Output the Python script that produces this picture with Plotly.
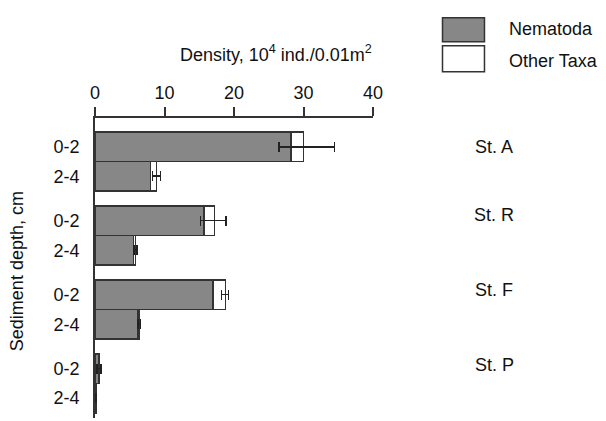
import plotly.graph_objects as go

stations = ["St. A", "St. R", "St. F", "St. P"]
depths = ["0-2", "2-4"]
nematoda = [28.2, 8.0, 15.7, 5.55, 17.0, 6.1, 0.5, 0.1]
other_taxa = [1.8, 0.85, 1.5, 0.3, 1.75, 0.25, 0.1, 0.03]
err_plus = [4.45, 0.55, 1.65, 0.2, 0.45, 0.2, 0.3, 0.05]
err_minus = [3.5, 0.55, 2.0, 0.2, 0.55, 0.2, 0.3, 0.05]
x_ticks = [0, 10, 20, 30, 40]

FONT = "Liberation Sans, Arial, sans-serif"
GROUP_STEP = 2.5
ypos = [g * GROUP_STEP + d for g in range(len(stations)) for d in range(len(depths))]
ylabels = [d for _ in stations for d in depths]

fig = go.Figure()
fig.add_trace(go.Bar(
    y=ypos, x=nematoda, orientation="h", name="Nematoda", width=1.0,
    marker=dict(color="#878787", line=dict(color="#333333", width=1.5)),
))
fig.add_trace(go.Bar(
    y=ypos, x=other_taxa, orientation="h", name="Other Taxa", width=1.0,
    marker=dict(color="#ffffff", line=dict(color="#333333", width=1.5)),
    error_x=dict(type="data", symmetric=False, array=err_plus, arrayminus=err_minus,
                 color="#222222", thickness=1.6, width=5),
))

# page body has an 8px margin, so the figure is sized to fit the 606x421 window
fig.update_layout(
    barmode="stack",
    width=598, height=413,
    margin=dict(l=87, r=233, t=110, b=3),
    plot_bgcolor="white", paper_bgcolor="white",
    showlegend=False,
    font=dict(family=FONT, size=18, color="#111111"),
    xaxis=dict(
        side="top", range=[0, 40], tickvals=x_ticks, ticks="outside", ticklen=9,
        tickwidth=1.5, tickcolor="#333333", showline=True, linecolor="#333333",
        linewidth=1.5, showgrid=False, zeroline=False, ticklabelstandoff=1,
        tickfont=dict(size=18), automargin=False,
    ),
    yaxis=dict(
        range=[9.17, -0.97], tickvals=ypos, ticktext=ylabels, showline=True,
        linecolor="#333333", linewidth=2, showgrid=False, zeroline=False,
        ticks="", ticklabelstandoff=10, tickfont=dict(size=18), automargin=False,
    ),
)

annotations = [
    dict(text="Density, 10<sup>4</sup> ind./0.01m<sup>2</sup>", xref="paper", yref="paper",
         x=0.65, y=1.215, showarrow=False, font=dict(size=18), xanchor="center", yanchor="middle"),
    dict(text="Sediment depth, cm", xref="paper", yref="paper", x=-0.28, y=0.49,
         textangle=-90, showarrow=False, font=dict(size=18), xanchor="center", yanchor="middle"),
    dict(text="Nematoda", xref="paper", yref="paper", x=1.482, y=1.298, showarrow=False,
         xanchor="left", yanchor="middle", font=dict(size=18)),
    dict(text="Other Taxa", xref="paper", yref="paper", x=1.482, y=1.191, showarrow=False,
         xanchor="left", yanchor="middle", font=dict(size=18)),
]
station_y = [0.903, 0.676, 0.428, 0.177]
for st, sy in zip(stations, station_y):
    annotations.append(dict(text=st, xref="paper", yref="paper", x=1.437, y=sy,
                            showarrow=False, xanchor="center", yanchor="middle",
                            font=dict(size=18)))
fig.update_layout(annotations=annotations)

fig.add_shape(type="rect", xref="paper", yref="paper", x0=1.250, x1=1.401, y0=1.254, y1=1.334,
              fillcolor="#878787", line=dict(color="#333333", width=1.5))
fig.add_shape(type="rect", xref="paper", yref="paper", x0=1.250, x1=1.401, y0=1.154, y1=1.241,
              fillcolor="#ffffff", line=dict(color="#333333", width=1.5))

fig.write_html("out.html")
